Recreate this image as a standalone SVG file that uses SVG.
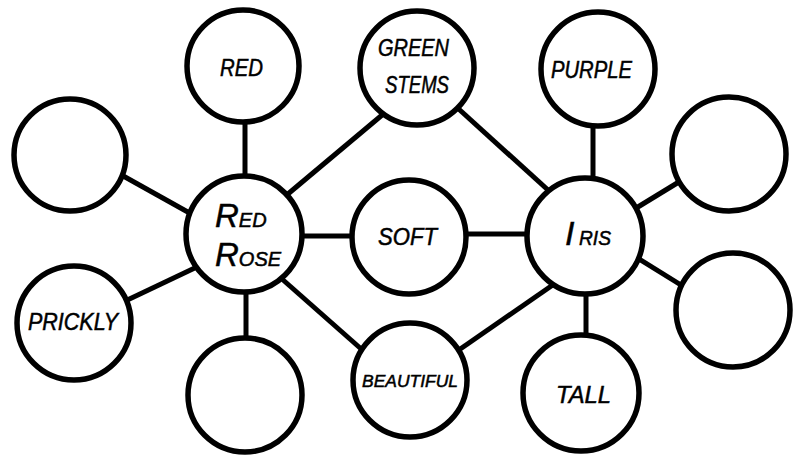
<svg xmlns="http://www.w3.org/2000/svg" width="794" height="456" viewBox="0 0 794 456">
<style>
.n{fill:#fff;stroke:#000;stroke-width:5.5}
.c line{stroke:#000;stroke-width:5}
text{font-family:"Liberation Sans",Arial,sans-serif;font-style:italic;fill:#000;stroke:#000;stroke-width:0.5}
.t{font-size:23px}
</style>
<rect width="794" height="456" fill="#fff"/>
<g class="c" id="connectors">
<line x1="100" y1="163" x2="220" y2="230"/>
<line x1="245" y1="100" x2="245" y2="200"/>
<line x1="270" y1="209" x2="400" y2="100"/>
<line x1="280" y1="236" x2="370" y2="236"/>
<line x1="100" y1="313" x2="220" y2="256"/>
<line x1="246" y1="270" x2="246" y2="360"/>
<line x1="265" y1="264" x2="385" y2="370"/>
<line x1="440" y1="92" x2="570" y2="210"/>
<line x1="593" y1="100" x2="593" y2="200"/>
<line x1="610" y1="224" x2="710" y2="163"/>
<line x1="440" y1="234" x2="560" y2="234"/>
<line x1="610" y1="241" x2="710" y2="303"/>
<line x1="586" y1="270" x2="586" y2="360"/>
<line x1="430" y1="370" x2="570" y2="273"/>
</g>
<g id="red"><circle class="n" cx="243" cy="66" r="56"/><text class="t" x="220" y="76" textLength="43" lengthAdjust="spacingAndGlyphs">RED</text></g>
<g id="green-stems"><circle class="n" cx="417" cy="68" r="57"/><text class="t" x="378" y="56" textLength="71" lengthAdjust="spacingAndGlyphs">GREEN</text><text class="t" x="385" y="93" textLength="64" lengthAdjust="spacingAndGlyphs">STEMS</text></g>
<g id="purple"><circle class="n" cx="598" cy="69" r="57"/><text class="t" x="551" y="78" textLength="81" lengthAdjust="spacingAndGlyphs">PURPLE</text></g>
<g id="empty-tl"><circle class="n" cx="70" cy="155" r="56"/></g>
<g id="empty-tr"><circle class="n" cx="729" cy="154" r="57"/></g>
<g id="red-rose"><circle class="n" cx="244" cy="234" r="58"/>
<text x="215" y="227"><tspan style="font-size:33px">R</tspan><tspan style="font-size:20px">ED</tspan></text>
<text x="215" y="266"><tspan style="font-size:33px">R</tspan><tspan style="font-size:20px">OSE</tspan></text></g>
<g id="soft"><circle class="n" cx="409" cy="237" r="57"/><text class="t" x="378" y="245" textLength="59" lengthAdjust="spacingAndGlyphs">SOFT</text></g>
<g id="iris"><circle class="n" cx="585" cy="236" r="58"/>
<text x="565" y="245" style="font-size:34px">I</text><text x="579" y="245" style="font-size:21px" textLength="32" lengthAdjust="spacingAndGlyphs">RIS</text></g>
<g id="prickly"><circle class="n" cx="74" cy="323" r="57"/><text class="t" x="28" y="330" textLength="90" lengthAdjust="spacingAndGlyphs">PRICKLY</text></g>
<g id="empty-bl"><circle class="n" cx="245" cy="395" r="57"/></g>
<g id="beautiful"><circle class="n" cx="410" cy="380" r="57"/><text x="362" y="387" style="font-size:17px" textLength="96" lengthAdjust="spacingAndGlyphs">BEAUTIFUL</text></g>
<g id="tall"><circle class="n" cx="581" cy="393" r="58"/><text class="t" x="556" y="403" textLength="55" lengthAdjust="spacingAndGlyphs">TALL</text></g>
<g id="empty-br"><circle class="n" cx="733" cy="310" r="57"/></g>
</svg>
